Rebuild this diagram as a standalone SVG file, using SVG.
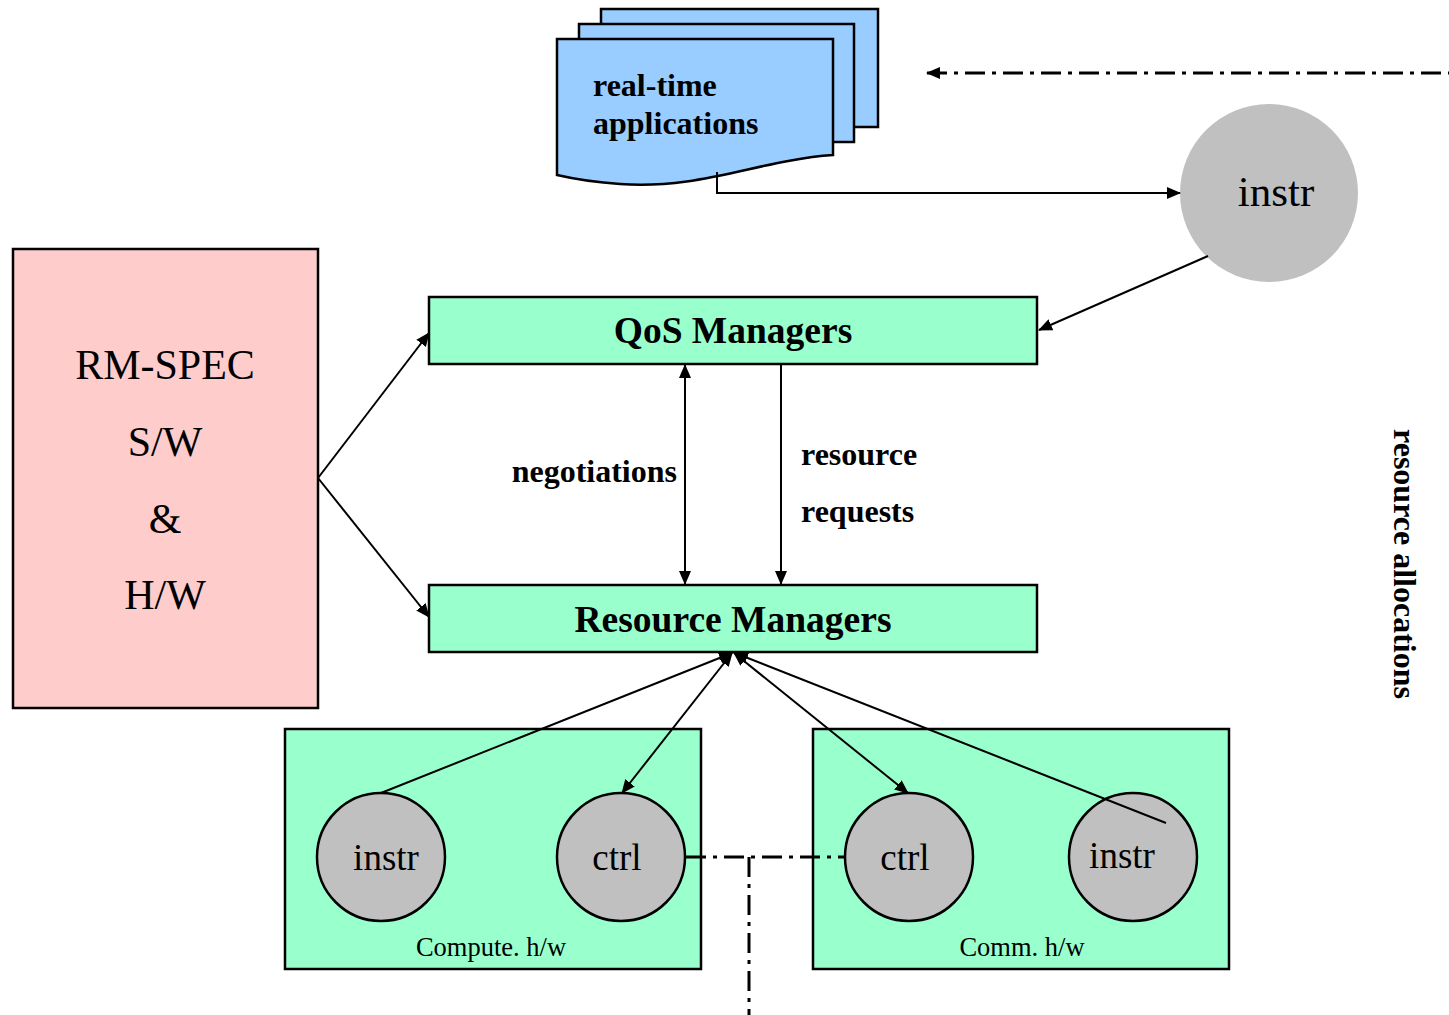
<svg xmlns="http://www.w3.org/2000/svg" width="1449" height="1015" viewBox="0 0 1449 1015">
<style>
text{font-family:"Liberation Serif","Times New Roman",serif;fill:#000}
.b{font-weight:bold}
.box{stroke:#000;stroke-width:2.5}
.g{fill:#99ffcc}
.c{fill:#c0c0c0;stroke:#000;stroke-width:2.5}
.ln{fill:none;stroke:#000;stroke-width:2}
.dd{fill:none;stroke:#000;stroke-width:3;stroke-dasharray:20,7,4,7}
</style>
<defs>
<marker id="ahs" markerWidth="14" markerHeight="12" refX="13" refY="6" orient="auto-start-reverse" markerUnits="userSpaceOnUse" viewBox="0 0 14 12">
<path d="M0,0 L14,6 L0,12 z" fill="#000"/>
</marker>
</defs>

<g id="apps">
<rect x="601" y="9" width="277" height="118" fill="#99ccff" class="box"/>
<rect x="579" y="24" width="275" height="118" fill="#99ccff" class="box"/>
<path d="M557,39 L833,39 L833,155 C760,160 700,190 620,184 C590,182 570,178 557,175 Z" fill="#99ccff" class="box"/>
<text x="593" y="96" font-size="32" class="b">real-time</text>
<text x="593" y="134" font-size="32" class="b">applications</text>
</g>

<g id="instr-top">
<circle cx="1269" cy="193" r="89" fill="#c0c0c0"/>
<text x="1276" y="206" font-size="43" text-anchor="middle">instr</text>
</g>

<g id="rmspec">
<rect x="13" y="249" width="305" height="459" fill="#ffcccc" class="box"/>
<text x="165" y="379" font-size="42" text-anchor="middle">RM-SPEC</text>
<text x="165" y="456" font-size="42" text-anchor="middle">S/W</text>
<text x="165" y="533" font-size="42" text-anchor="middle">&amp;</text>
<text x="165" y="609" font-size="42" text-anchor="middle">H/W</text>
</g>

<g id="qos">
<rect x="429" y="297" width="608" height="67" class="box g"/>
<text x="733" y="343" font-size="37.5" class="b" text-anchor="middle">QoS Managers</text>
</g>

<g id="rm">
<rect x="429" y="585" width="608" height="67" class="box g"/>
<text x="733" y="632" font-size="37.5" class="b" text-anchor="middle">Resource Managers</text>
</g>

<g id="compute">
<rect x="285" y="729" width="416" height="240" class="box g"/>
<text x="491" y="956" font-size="26.5" text-anchor="middle">Compute. h/w</text>
</g>
<g id="compute-instr">
<circle cx="381" cy="857" r="64" class="c"/>
<text x="386" y="870" font-size="37" text-anchor="middle">instr</text>
</g>
<g id="compute-ctrl">
<circle cx="621" cy="857" r="64" class="c"/>
<text x="617" y="870" font-size="37" text-anchor="middle">ctrl</text>
</g>

<g id="comm">
<rect x="813" y="729" width="416" height="240" class="box g"/>
<text x="1022" y="956" font-size="26.5" text-anchor="middle">Comm. h/w</text>
</g>
<g id="comm-ctrl">
<circle cx="909" cy="857" r="64" class="c"/>
<text x="905" y="870" font-size="37" text-anchor="middle">ctrl</text>
</g>
<g id="comm-instr">
<circle cx="1133" cy="857" r="64" class="c"/>
<text x="1122" y="868" font-size="37" text-anchor="middle">instr</text>
</g>

<g id="labels">
<text x="677" y="482" font-size="32" class="b" text-anchor="end">negotiations</text>
<text x="801" y="465" font-size="32" class="b">resource</text>
<text x="801" y="522" font-size="32" class="b">requests</text>
<text transform="translate(1394,564) rotate(90)" font-size="32" class="b" text-anchor="middle">resource allocations</text>
</g>

<g id="connectors">
<path d="M927,73 L1449,73" class="dd" marker-start="url(#ahs)"/>
<path d="M717,172 L717,193 L1180,193" class="ln" marker-end="url(#ahs)"/>
<path d="M1208,256 L1039,330" class="ln" marker-end="url(#ahs)"/>
<path d="M318,478 L429,333" class="ln" marker-end="url(#ahs)"/>
<path d="M318,478 L429,617" class="ln" marker-end="url(#ahs)"/>
<path d="M685,365 L685,584" class="ln" marker-start="url(#ahs)" marker-end="url(#ahs)"/>
<path d="M781,364 L781,584" class="ln" marker-end="url(#ahs)"/>
<path d="M381,793 L732,653" class="ln" marker-end="url(#ahs)"/>
<path d="M622,793 L732,653" class="ln" marker-start="url(#ahs)" marker-end="url(#ahs)"/>
<path d="M908,793 L734,653" class="ln" marker-start="url(#ahs)" marker-end="url(#ahs)"/>
<path d="M1166,823 L735,653" class="ln" marker-end="url(#ahs)"/>
<path d="M686,857 L845,857" class="dd"/>
<path d="M749,857 L749,1015" class="dd"/>
</g>
</svg>
